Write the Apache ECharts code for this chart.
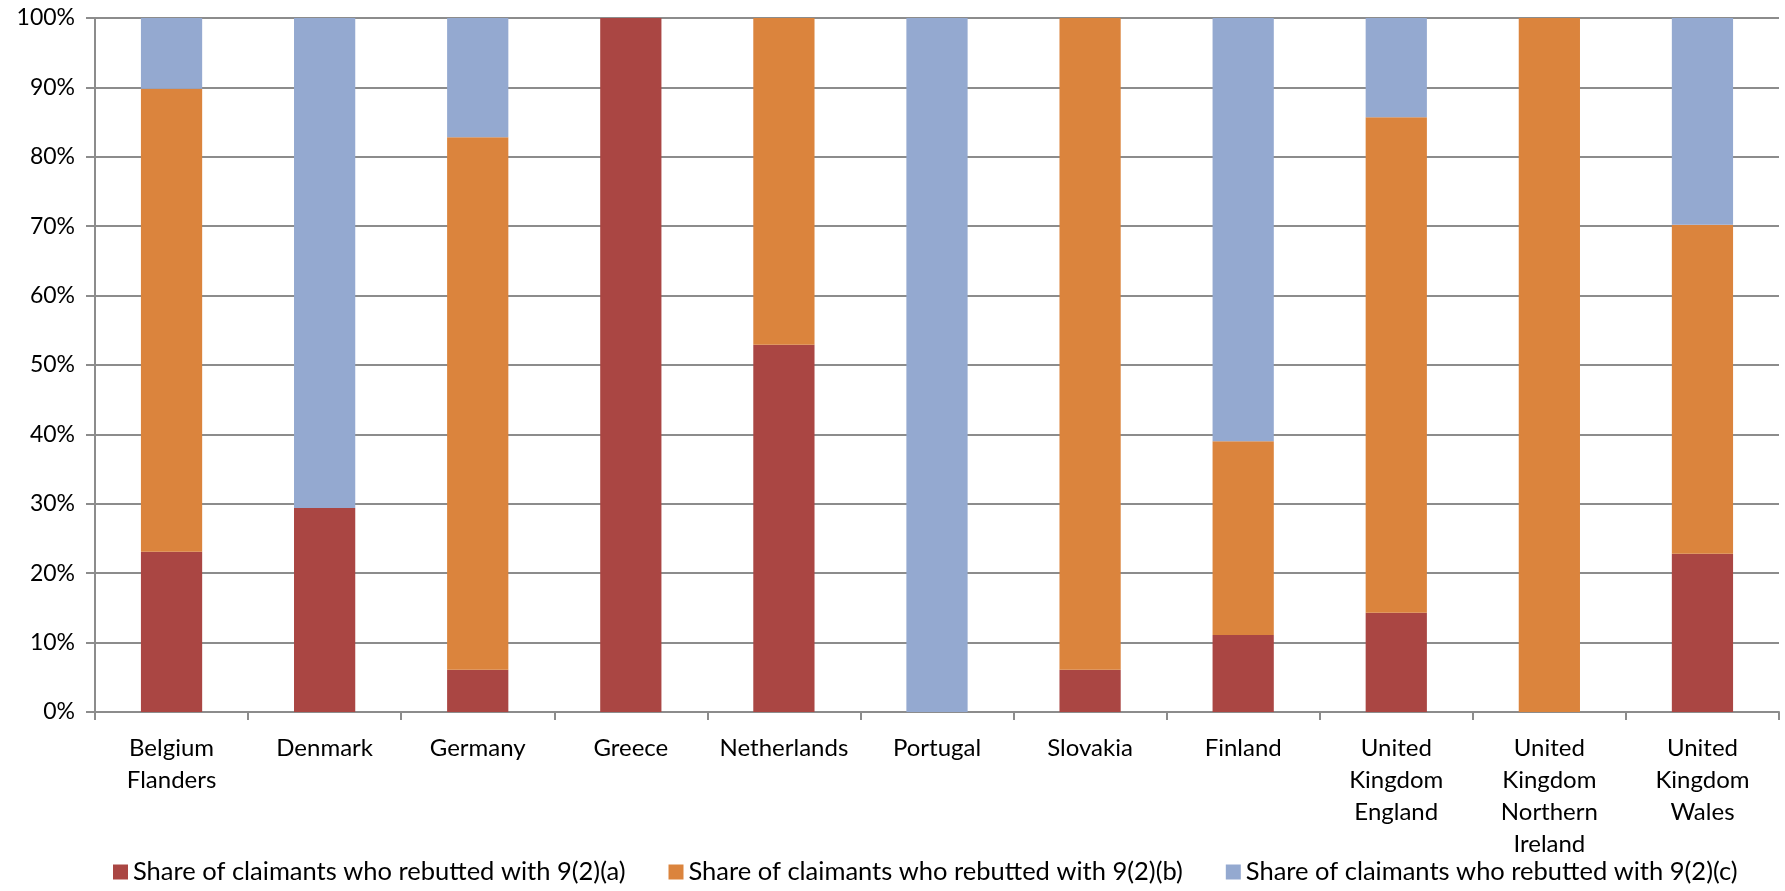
<!DOCTYPE html>
<html>
<head>
<meta charset="utf-8">
<script src="https://cdn.jsdelivr.net/npm/echarts@6/dist/echarts.min.js"></script>
<style>
  html, body { margin: 0; padding: 0; background: #ffffff; }
  #chart { width: 1785px; height: 891px; }
</style>
</head>
<body>
<div id="chart"></div>
<script>
// Categories (region names, wrapped as drawn under the axis)
const categories = [
  'Belgium\nFlanders', 'Denmark', 'Germany', 'Greece', 'Netherlands', 'Portugal',
  'Slovakia', 'Finland', 'United\nKingdom\nEngland', 'United\nKingdom\nNorthern\nIreland',
  'United\nKingdom\nWales'
];

// Shares in percent, stacked to 100 per category
const shareA = [23.1, 29.4, 6.1, 100, 52.9, 0, 6.1, 11.1, 14.3, 0, 22.8];
const shareB = [66.7, 0, 76.7, 0, 47.1, 0, 93.9, 27.9, 71.4, 100, 47.4];
const shareC = [10.2, 70.6, 17.2, 0, 0, 100, 0, 61.0, 14.3, 0, 29.8];

const seriesNames = [
  'Share of claimants who rebutted with 9(2)(a)',
  'Share of claimants who rebutted with 9(2)(b)',
  'Share of claimants who rebutted with 9(2)(c)'
];
const seriesColors = ['#AA4643', '#DB843D', '#94A9D0'];

const yTicks = { min: 0, max: 100, interval: 10 };

const font = 'Lato, "Open Sans", sans-serif';
const gridColor = '#8c8c8c';

const chart = echarts.init(document.getElementById('chart'), null, { renderer: 'canvas' });

const makeSeries = (name, data, color) => ({
  name: name,
  type: 'bar',
  stack: 'share',
  data: data,
  barWidth: '40%',
  itemStyle: { color: color },
  emphasis: { disabled: true }
});

chart.setOption({
  animation: false,
  backgroundColor: '#ffffff',
  grid: { left: 95, right: 6, top: 18, bottom: 179, containLabel: false },
  xAxis: {
    type: 'category',
    data: categories,
    axisLine: { show: true, lineStyle: { color: gridColor, width: 2 } },
    axisTick: { show: true, alignWithLabel: false, length: 8, inside: false, lineStyle: { color: gridColor, width: 2 } },
    axisLabel: {
      interval: 0,
      margin: 20,
      color: '#000000',
      fontFamily: font,
      fontSize: 24,
      lineHeight: 32
    },
    splitLine: { show: false }
  },
  yAxis: {
    type: 'value',
    min: yTicks.min,
    max: yTicks.max,
    interval: yTicks.interval,
    axisLine: { show: true, lineStyle: { color: gridColor, width: 2 } },
    axisTick: { show: true, length: 9, lineStyle: { color: gridColor, width: 2 } },
    axisLabel: {
      margin: 20,
      color: '#000000',
      fontFamily: font,
      fontSize: 23,
      formatter: v => v + '%'
    },
    splitLine: { show: true, lineStyle: { color: gridColor, width: 2 } }
  },
  legend: {
    bottom: 1,
    left: 108,
    itemWidth: 15,
    itemHeight: 15,
    itemGap: 43,
    icon: 'rect',
    textStyle: { color: '#000000', fontFamily: font, fontSize: 25.5 },
    data: seriesNames
  },
  series: [
    makeSeries(seriesNames[0], shareA, seriesColors[0]),
    makeSeries(seriesNames[1], shareB, seriesColors[1]),
    makeSeries(seriesNames[2], shareC, seriesColors[2])
  ]
});
</script>
</body>
</html>
